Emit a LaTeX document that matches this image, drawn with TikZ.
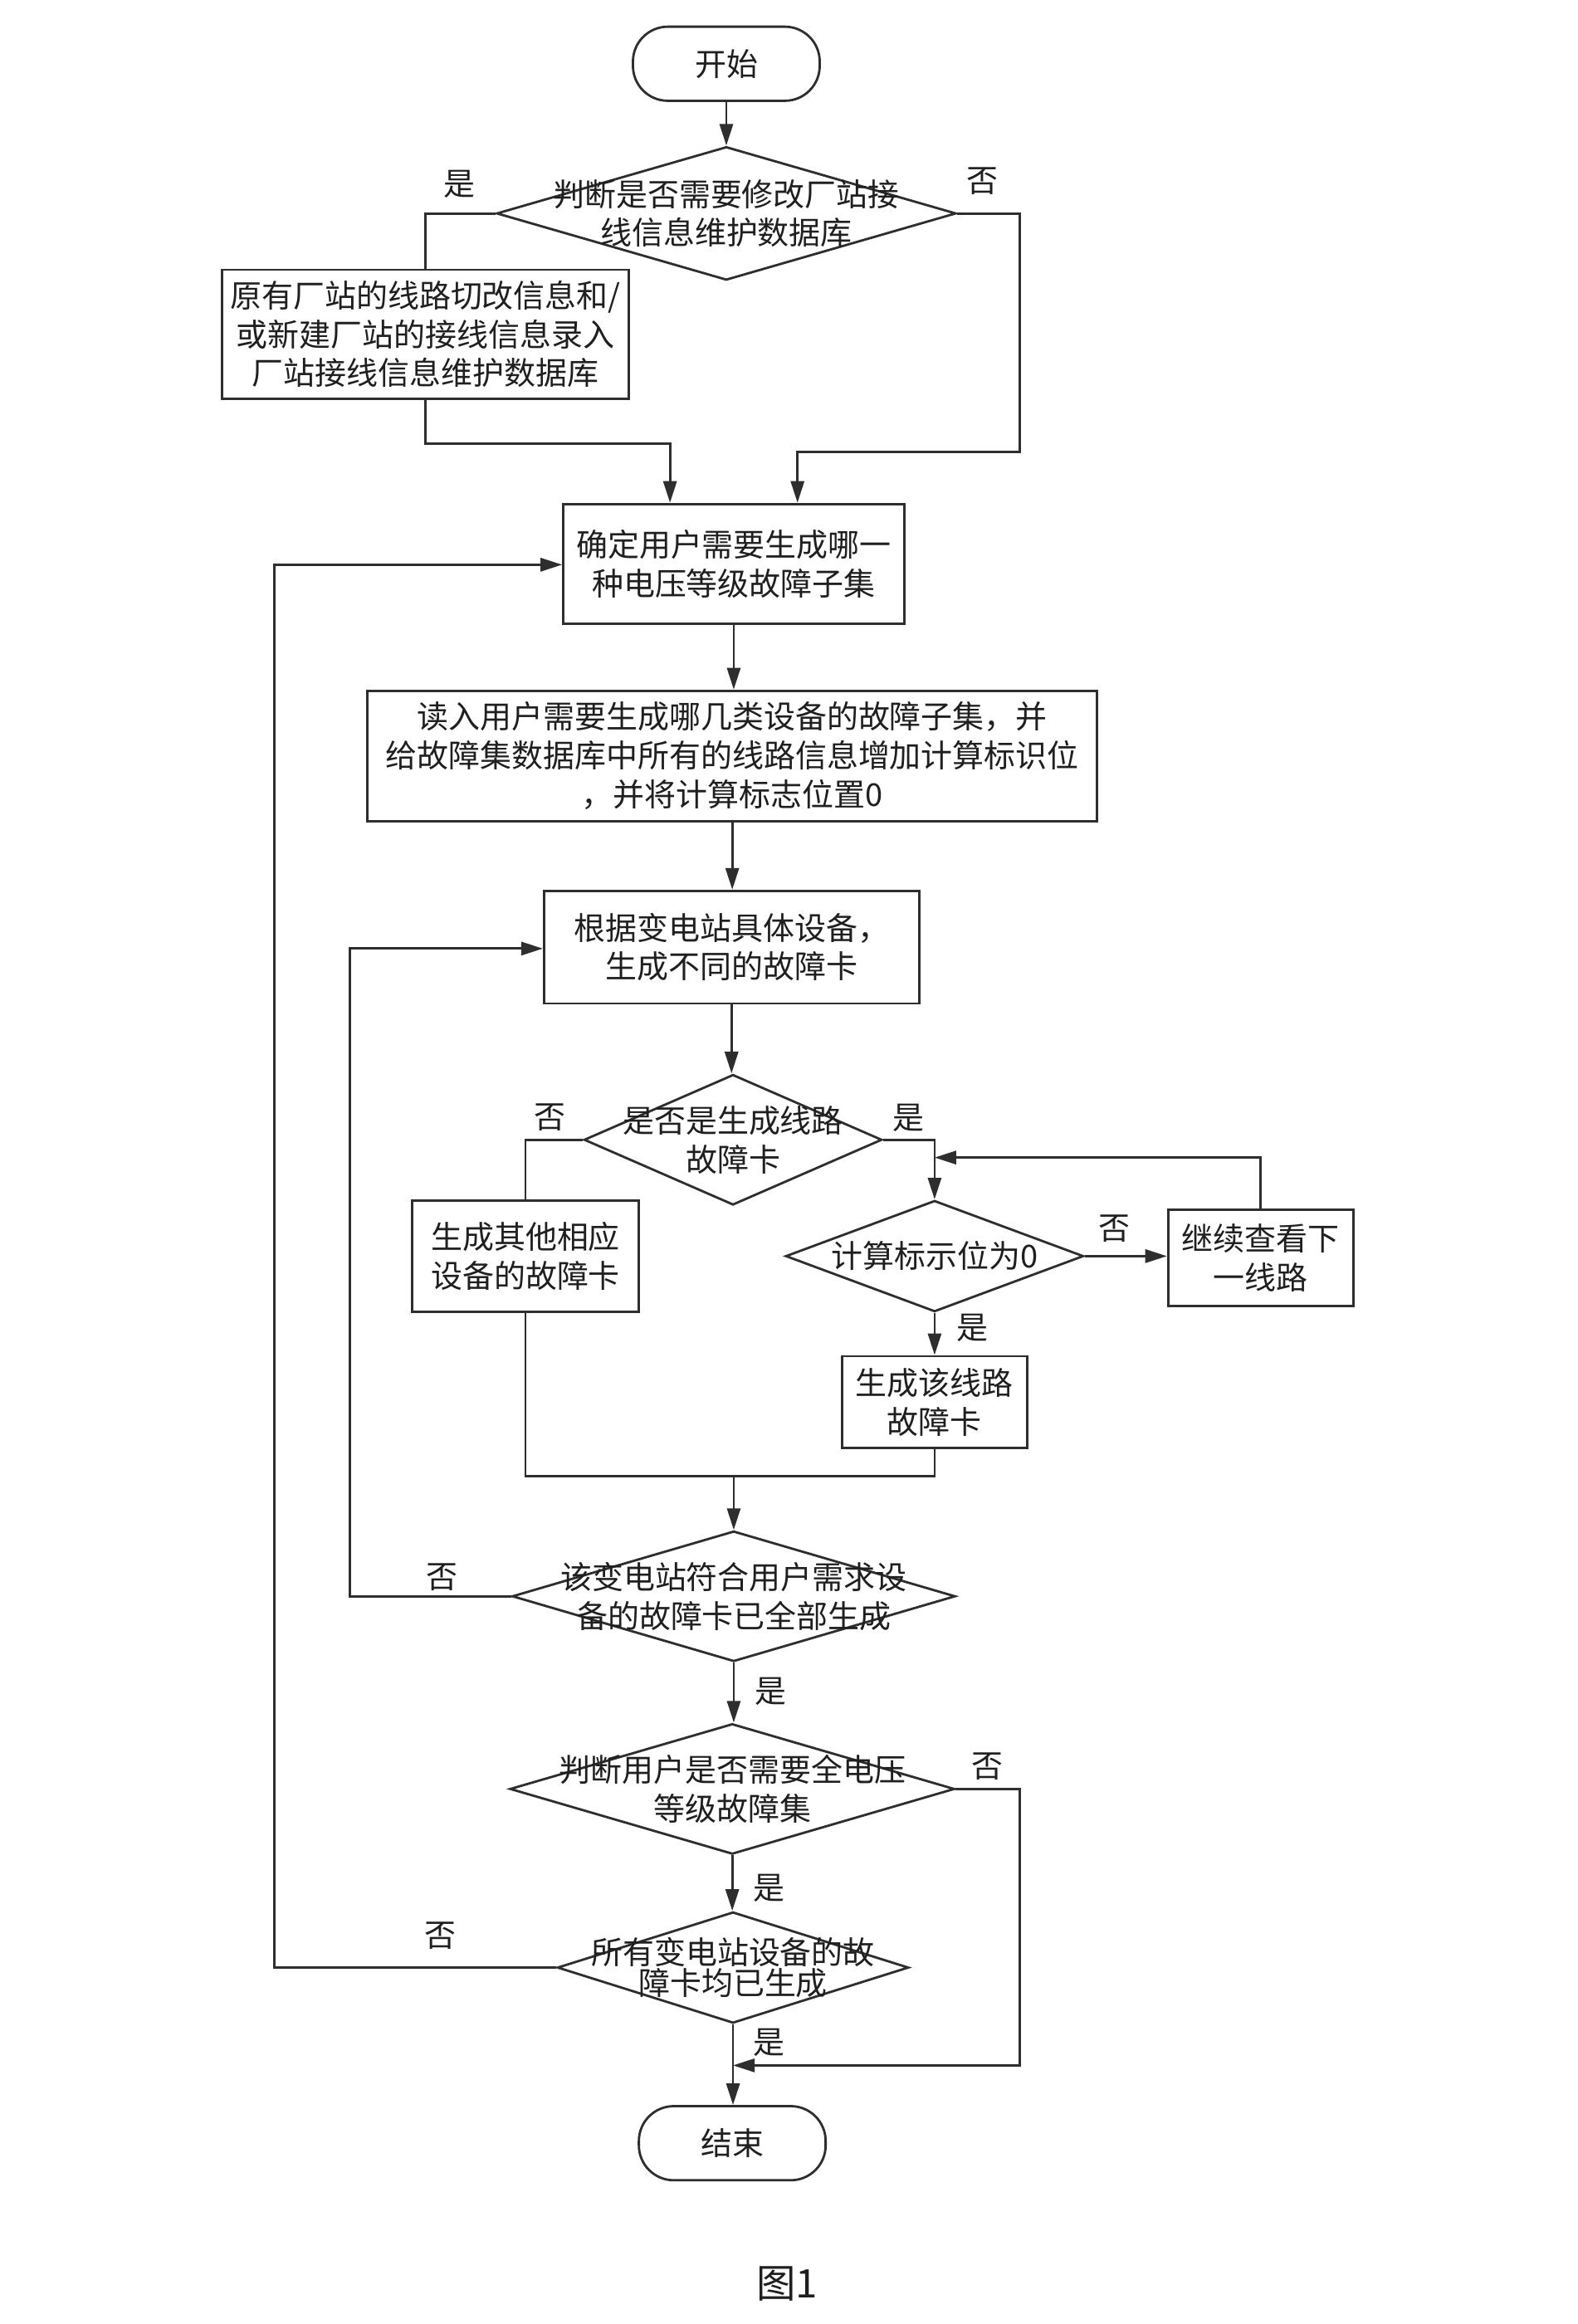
\documentclass[tikz,border=0pt]{standalone}
\usepackage{fontspec}
\newfontfamily\cjk{Noto Sans CJK SC}
\usetikzlibrary{arrows.meta,shapes.geometric}
\begin{document}
\begin{tikzpicture}[x=0.017857cm, y=-0.017857cm,
  line width=0.8pt, color=black!82,
  txt/.style={font=\fontsize{10.8}{13.3}\selectfont\cjk, text=black!88, align=center, inner sep=0pt},
  proc/.style={draw, rectangle, txt},
  term/.style={draw, rectangle, rounded corners=0.42cm, txt},
  dec/.style={draw, diamond, inner sep=0pt},
  lab/.style={txt},
  arr/.style={-{Triangle[length=0.26cm,width=0.16cm]}},
]
\useasboundingbox[fill=white] (0,0) rectangle (1064,1568);

% nodes
\node[term, minimum width=126*0.017857cm, minimum height=50*0.017857cm] (start) at (490,43) {开始};
\node[dec, minimum width=310*0.017857cm, minimum height=90*0.017857cm,
  label={[txt]center:判断是否需要修改厂站接\\线信息维护数据库}] (d1) at (490,144) {};
\node[proc, minimum width=274*0.017857cm, minimum height=87*0.017857cm] (b2) at (287,225.5)
  {原有厂站的线路切改信息和/\\或新建厂站的接线信息录入\\厂站接线信息维护数据库};
\node[proc, minimum width=230*0.017857cm, minimum height=81*0.017857cm] (b3) at (495,380.5)
  {确定用户需要生成哪一\\种电压等级故障子集};
\node[proc, minimum width=492*0.017857cm, minimum height=88*0.017857cm] (b4) at (494,510)
  {读入用户需要生成哪几类设备的故障子集，并\\给故障集数据库中所有的线路信息增加计算标识位\\，并将计算标志位置0};
\node[proc, minimum width=253*0.017857cm, minimum height=76*0.017857cm] (b5) at (493.5,639)
  {根据变电站具体设备，\\生成不同的故障卡};
\node[dec, minimum width=201*0.017857cm, minimum height=88*0.017857cm,
  label={[txt]center:是否是生成线路\\故障卡}] (d6) at (494.5,769) {};
\node[proc, minimum width=153*0.017857cm, minimum height=75*0.017857cm] (b7) at (354.5,847.5)
  {生成其他相应\\设备的故障卡};
\node[dec, minimum width=201*0.017857cm, minimum height=75*0.017857cm,
  label={[txt]center:计算标示位为0}] (d8) at (630.5,847.5) {};
\node[proc, minimum width=125*0.017857cm, minimum height=65*0.017857cm] (b9) at (850.5,848.5)
  {继续查看下\\一线路};
\node[proc, minimum width=125*0.017857cm, minimum height=62*0.017857cm] (b10) at (630.5,946)
  {生成该线路\\故障卡};
\node[dec, minimum width=299*0.017857cm, minimum height=88*0.017857cm,
  label={[txt]center:该变电站符合用户需求设\\备的故障卡已全部生成}] (d11) at (495,1077) {};
\node[dec, minimum width=300*0.017857cm, minimum height=88*0.017857cm,
  label={[txt]center:判断用户是否需要全电压\\等级故障集}] (d12) at (494,1207) {};
\node[dec, minimum width=237*0.017857cm, minimum height=75*0.017857cm,
  label={[txt, font=\fontsize{10.8}{10.6}\selectfont\cjk]center:所有变电站设备的故\\障卡均已生成}] (d13) at (494.5,1327.5) {};
\node[term, minimum width=126*0.017857cm, minimum height=50*0.017857cm] (end) at (494,1446) {结束};

% junction coordinates
\coordinate (j1) at (452,299.5);
\coordinate (j2) at (688,305);
\coordinate (j3) at (538,305);
\coordinate (m1) at (630.5,781);
\coordinate (m2) at (495,996);
\coordinate (m3) at (236,640);
\coordinate (m4) at (688,1393.5);
\coordinate (m5) at (494.5,1393.5);
\coordinate (m6) at (185,381);

% connectors
\draw[arr] (start) -- (d1);
\draw (d1.west) -| (b2.north);
\draw[arr] (b2.south) |- (j1) -- (j1 |- b3.north);
\draw[arr] (d1.east) -| (j2) -- (j3) -- (j3 |- b3.north);
\draw[arr] (b3.south) -- (b3.south |- b4.north);
\draw[arr] (b4.south) -- (b4.south |- b5.north);
\draw[arr] (b5.south) -- (b5.south |- d6.north);
\draw (d6.west) -| (b7.north);
\draw[arr] (d6.east) -| (d8.north);
\draw[arr] (d8.east) -- (d8.east -| b9.west);
\draw[arr] (b9.north) |- (m1);
\draw[arr] (d8.south) -- (b10.north);
\draw (b7.south) |- (m2) -| (b10.south);
\draw[arr] (m2) -- (m2 |- d11.north);
\draw[arr] (d11.west) -| (m3) -- (m3 -| b5.west);
\draw[arr] (d11.south) -- (d11.south |- d12.north);
\draw[arr] (d12.south) -- (d12.south |- d13.north);
\draw[arr] (d12.east) -| (m4) -- (m5);
\draw[arr] (d13.west) -| (m6) -- (m6 -| b3.west);
\draw[arr] (d13.south) -- (d13.south |- end.north);

% branch labels
\node[lab] (l1) at (310,124) {是};
\node[lab] (l2) at (663,122) {否};
\node[lab] (l3) at (371,754) {否};
\node[lab] (l4) at (613,754) {是};
\node[lab] (l5) at (752,829) {否};
\node[lab] (l6) at (656,896) {是};
\node[lab] (l7) at (298,1064) {否};
\node[lab] (l8) at (520,1141) {是};
\node[lab] (l9) at (666,1192) {否};
\node[lab] (l10) at (519,1274) {是};
\node[lab] (l11) at (297,1306) {否};
\node[lab] (l12) at (519,1378) {是};

% caption
\node[txt, font=\fontsize{13.5}{16}\selectfont\cjk] (cap) at (531,1541) {图1};
\end{tikzpicture}
\end{document}
